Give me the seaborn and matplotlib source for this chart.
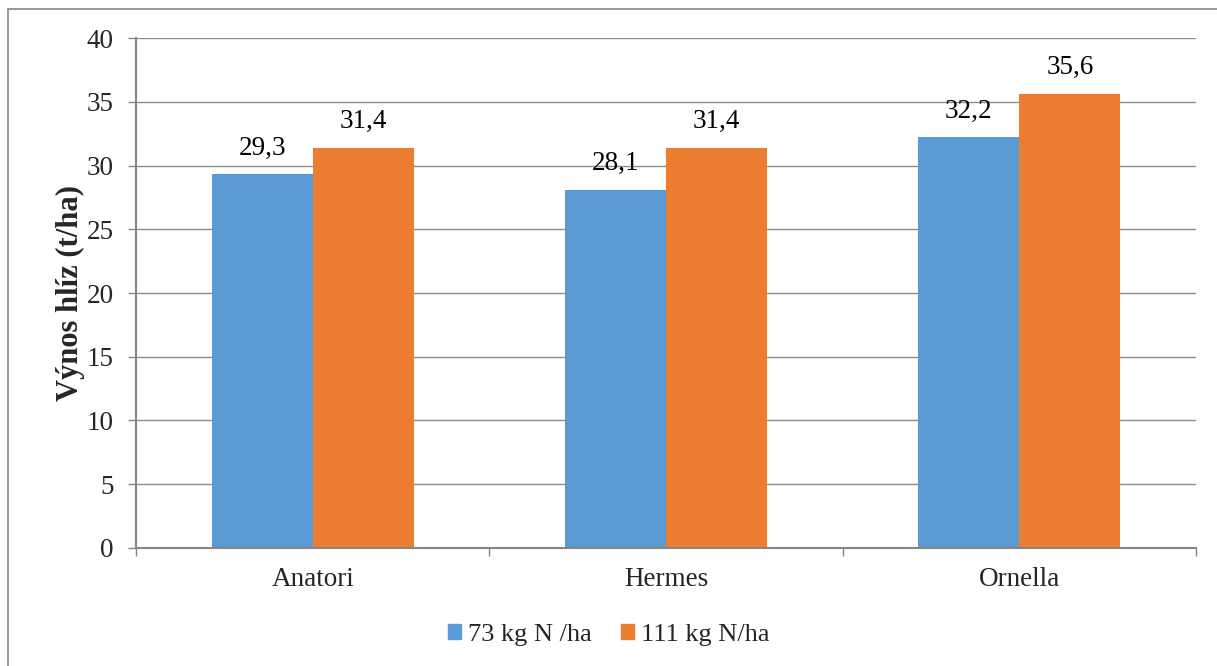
import pandas as pd
import seaborn as sns
import matplotlib.pyplot as plt
from matplotlib.patches import Rectangle
from matplotlib.lines import Line2D
from matplotlib.ticker import FixedLocator

varieties = ["Anatori", "Hermes", "Ornella"]
series_names = ["73 kg N /ha", "111 kg N/ha"]
low_n = [29.3, 28.1, 32.2]
high_n = [31.4, 31.4, 35.6]
colors = ["#5B9BD5", "#ED7D31"]


def build_frame():
    rows = []
    for name, vals in zip(series_names, [low_n, high_n]):
        for v, y in zip(varieties, vals):
            rows.append({"Odrůda": v, "Dávka": name, "Výnos": y})
    return pd.DataFrame(rows)


def plot_chart(df):
    sns.set_style("white")
    plt.rcParams["font.family"] = ["Liberation Serif", "DejaVu Serif"]

    fig = plt.figure(figsize=(12.17, 6.66), dpi=100)
    ax = fig.add_axes([0.1118, 0.1772, 0.8709, 0.7657])

    sns.barplot(data=df, x="Odrůda", y="Výnos", hue="Dávka",
                palette=colors, width=0.572, saturation=1,
                edgecolor="none", linewidth=0, ax=ax, legend=False)

    for cont in ax.containers:
        ax.bar_label(cont, labels=[f"{v:.1f}".replace(".", ",") for v in cont.datavalues],
                     padding=10, fontsize=19.5, color="#000000")

    ax.set_ylim(0, 40)
    ax.set_xlim(-0.5, 2.5)
    ax.set_yticks(range(0, 41, 5))
    ax.yaxis.grid(True, color="#8c8c8c", linewidth=1)
    ax.set_axisbelow(True)
    for side in ["top", "right"]:
        ax.spines[side].set_visible(False)
    for side in ["left", "bottom"]:
        ax.spines[side].set_color("#868686")
        ax.spines[side].set_linewidth(1.5)

    ax.tick_params(axis="y", length=6, width=1, color="#868686", labelsize=19.5, pad=10, direction="out", left=True)
    ax.tick_params(axis="x", which="major", length=0, labelsize=19.5, pad=14, bottom=True)
    ax.xaxis.set_minor_locator(FixedLocator([-0.5, 0.5, 1.5, 2.5]))
    ax.tick_params(axis="x", which="minor", length=6, width=1, color="#868686", bottom=True)

    ax.set_xlabel("")
    ax.set_ylabel("Výnos hlíz (t/ha)", fontsize=22, fontweight="bold", labelpad=1)

    handles = [Rectangle((0, 0), 1, 1, color=c) for c in colors]
    fig.legend(handles, series_names, loc="center", bbox_to_anchor=(0.5, 0.047),
               ncol=2, frameon=False, fontsize=19, handlelength=0.52, handleheight=0.52,
               handletextpad=0.25, columnspacing=1.1)

    # chart area border: only left and top edges fall inside the picture
    fig.add_artist(Line2D([8 / 1217, 8 / 1217], [0, 1 - 9 / 666], transform=fig.transFigure,
                          color="#888888", linewidth=1.2))
    fig.add_artist(Line2D([8 / 1217, 1], [1 - 9 / 666, 1 - 9 / 666], transform=fig.transFigure,
                          color="#888888", linewidth=1.2))
    fig.savefig("out.png", dpi=100)


if __name__ == "__main__":
    plot_chart(build_frame())
